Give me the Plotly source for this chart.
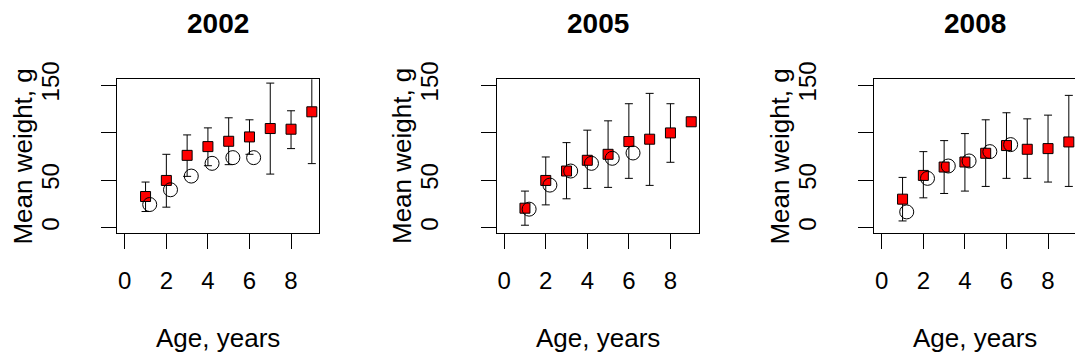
import plotly.graph_objects as go

ages = [1, 2, 3, 4, 5, 6, 7, 8, 9]
obs_ages = [1, 2, 3, 4, 5, 6]
years = ["2002", "2005", "2008"]

# red squares (mean weight), with error bars (lower / upper)
sq_2002 = [32.7, 49.6, 76.0, 85.2, 90.8, 95.4, 104.2, 103.5, 121.8]
lo_2002 = [16.9, 21.5, 53.9, 65.1, 66.2, 77.1, 56.3, 83.1, 67.3]
hi_2002 = [47.9, 77.1, 97.5, 104.9, 115.5, 113.4, 152.0, 122.9, 175.0]
ci_2002 = [24.3, 39.8, 54.2, 67.6, 73.6, 73.6]

sq_2005 = [20.4, 49.6, 59.5, 70.8, 77.1, 90.5, 93.0, 99.6, 111.3]
lo_2005 = [2.5, 23.9, 30.3, 41.2, 42.3, 51.8, 44.4, 68.7, 111.3]
hi_2005 = [38.4, 74.3, 89.4, 102.5, 112.3, 130.3, 141.2, 130.3, 111.3]
ci_2005 = [19.4, 44.7, 59.5, 67.6, 72.9, 78.5]

sq_2008 = [29.9, 54.9, 63.7, 69.0, 78.2, 86.3, 82.4, 83.1, 90.1]
lo_2008 = [7.0, 31.3, 35.9, 38.4, 43.3, 51.8, 51.8, 47.9, 43.3]
hi_2008 = [52.8, 79.9, 91.5, 98.9, 113.4, 120.8, 114.4, 118.3, 139.1]
ci_2008 = [16.5, 51.8, 64.8, 70.1, 79.9, 87.3]

x_ticks = [0, 2, 4, 6, 8]
y_ticks = [0, 50, 100, 150]
y_ticktext = ["0", "50", "", "150"]

series = [
    (sq_2002, lo_2002, hi_2002, ci_2002),
    (sq_2005, lo_2005, hi_2005, ci_2005),
    (sq_2008, lo_2008, hi_2008, ci_2008),
]

W, H = 1075, 361
box_left = [117.3, 496.7, 874.3]
box_w = 202.0
box_top, box_bot = 79.3, 233.3
circle_offset = 0.2

FONT = "Liberation Sans, Arial, Helvetica, sans-serif"

fig = go.Figure()
layout = dict(
    template="none",
    width=W, height=H,
    margin=dict(l=0, r=0, t=0, b=0, pad=0),
    paper_bgcolor="white", plot_bgcolor="white",
    showlegend=False,
    font=dict(family=FONT, color="black"),
    annotations=[],
)

for i, (sq, lo, hi, ci) in enumerate(series):
    k = "" if i == 0 else str(i + 1)
    xa, ya = "x" + k, "y" + k
    err_plus = [h - s for h, s in zip(hi, sq)]
    err_minus = [s - l for s, l in zip(sq, lo)]
    fig.add_trace(go.Scatter(
        x=ages, y=sq, mode="markers", xaxis=xa, yaxis=ya,
        marker=dict(symbol="square", size=10, color="#ff0000",
                    line=dict(color="black", width=1)),
        error_y=dict(type="data", symmetric=False, array=err_plus,
                     arrayminus=err_minus, color="black",
                     thickness=1, width=4),
    ))
    fig.add_trace(go.Scatter(
        x=[a + circle_offset for a in obs_ages], y=ci, mode="markers",
        xaxis=xa, yaxis=ya,
        marker=dict(symbol="circle-open", size=14, color="black",
                    line=dict(color="black", width=1)),
    ))

    x0 = box_left[i] / W
    x1 = min((box_left[i] + box_w) / W, 1.0)
    px_per = box_w / 9.72
    xmax = -0.36 + (min(box_left[i] + box_w, W) - box_left[i]) / px_per
    y0 = 1 - box_bot / H
    y1 = 1 - box_top / H
    layout["xaxis" + k] = dict(
        domain=[x0, x1], anchor=ya, range=[-0.36, xmax], automargin=False,
        tickmode="array", tickvals=x_ticks, ticktext=[str(t) for t in x_ticks],
        showline=True, mirror=True, linecolor="black", linewidth=1,
        ticks="outside", ticklen=15, tickwidth=1, tickcolor="black",
        showgrid=False, zeroline=False,
        tickfont=dict(size=24, family=FONT, color="black"),
        ticklabelstandoff=11,
    )
    layout["yaxis" + k] = dict(
        domain=[y0, y1], anchor=xa, range=[-6, 156], automargin=False,
        tickmode="array", tickvals=y_ticks, ticktext=y_ticktext,
        tickangle=-90,
        showline=True, mirror=True, linecolor="black", linewidth=1,
        ticks="outside", ticklen=15, tickwidth=1, tickcolor="black",
        showgrid=False, zeroline=False,
        tickfont=dict(size=24, family=FONT, color="black"),
        ticklabelstandoff=33,
    )
    cx = (box_left[i] + box_w / 2) / W
    layout["annotations"] += [
        dict(text="<b>" + years[i] + "</b>", x=cx, y=1 - 23.3 / H,
             xref="paper", yref="paper", xanchor="center", yanchor="middle",
             showarrow=False, font=dict(size=28, family=FONT, color="black")),
        dict(text="Age, years", x=cx, y=1 - 337.5 / H,
             xref="paper", yref="paper", xanchor="center", yanchor="middle",
             showarrow=False, font=dict(size=26, family=FONT, color="black")),
        dict(text="Mean weight, g", x=(box_left[i] - 94) / W,
             y=1 - (box_top + box_bot) / 2 / H, textangle=-90,
             xref="paper", yref="paper", xanchor="center", yanchor="middle",
             showarrow=False, font=dict(size=26, family=FONT, color="black")),
    ]

fig.update_layout(**layout)
fig.write_html("out.html")
